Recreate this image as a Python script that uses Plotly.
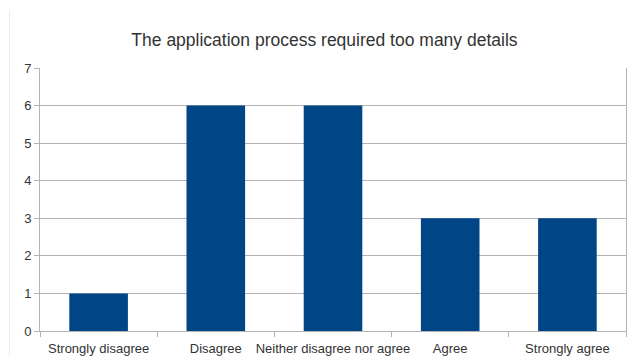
import plotly.graph_objects as go

categories = ["Strongly disagree", "Disagree", "Neither disagree nor agree", "Agree", "Strongly agree"]
values = [1, 6, 6, 3, 3]
title = "The application process required too many details"
y_ticks = [0, 1, 2, 3, 4, 5, 6, 7]

line_col = "#b3b3b3"

fig = go.Figure(go.Bar(x=categories, y=values, marker=dict(color="#004586", line=dict(width=0)), width=0.5))

fig.update_layout(
    width=627, height=356,
    margin=dict(l=40, r=1, t=68, b=25),
    paper_bgcolor="white", plot_bgcolor="white",
    font=dict(family="Liberation Sans, Arial, sans-serif", size=13, color="#333333"),
    title=dict(text=title, xref="container", x=0.5175, xanchor="center", y=0.887, yanchor="middle",
               font=dict(size=17.5, color="#333333")),
    showlegend=False,
    bargap=0.5,
)
fig.update_xaxes(
    tickson="boundaries", ticks="outside", ticklen=5, tickcolor=line_col,
    showline=True, linecolor=line_col, linewidth=1, showgrid=False,
    tickfont=dict(size=13, color="#333333"), range=[-0.5, 4.5],
    tickangle=0, automargin=False, ticklabelstandoff=5,
)
fig.update_yaxes(
    range=[0, 7], tickvals=y_ticks, ticks="outside", ticklen=5, tickcolor=line_col,
    showline=True, mirror=True, linecolor=line_col, linewidth=1,
    showgrid=True, gridcolor=line_col, gridwidth=1, zeroline=False,
    tickfont=dict(size=13, color="#333333"), automargin=False,
)
fig.add_shape(type="line", xref="paper", yref="paper", x0=-0.052, x1=-0.052, y0=-0.1, y1=1.22,
              line=dict(color="#eeeeee", width=1))

fig.write_html("out.html")
